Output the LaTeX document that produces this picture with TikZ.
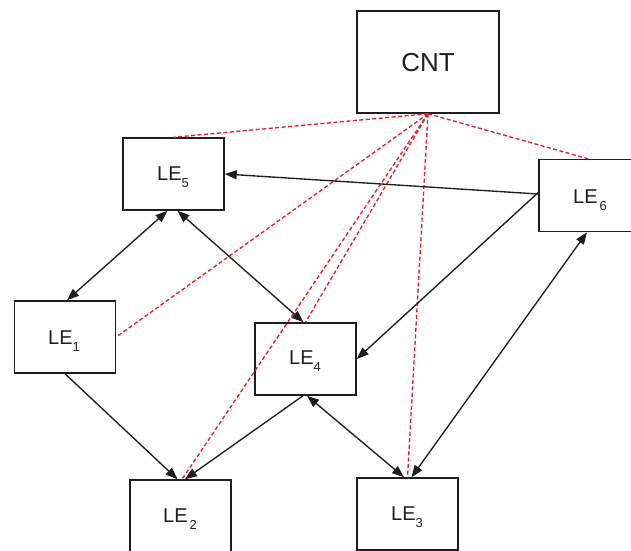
\documentclass[tikz,border=0pt]{standalone}
\usepackage{fontspec}
\setmainfont{Liberation Sans}
\usetikzlibrary{arrows.meta}
% lowered index digit for the LE labels
\newcommand{\lesub}[1]{\raisebox{-7pt}{\fontsize{13}{13}\selectfont #1}}
\definecolor{linkred}{RGB}{232,30,38}
\definecolor{ink}{RGB}{30,30,30}

\begin{document}
\begin{tikzpicture}[x=1pt,y=-1pt,
  box/.style={draw=ink, line width=1.5pt, minimum width=101pt, minimum height=72pt, inner sep=0pt},
  lbl/.style={anchor=base, font=\fontsize{20}{20}\selectfont, text=ink, inner sep=0pt},
  link/.style={line width=1.35pt, draw=ink},
  ctrl/.style={line width=1.35pt, draw=linkred, dash pattern=on 4pt off 2.5pt},
  >={Triangle[length=12pt,width=9pt]}
]
\clip (0,0) rectangle (631,550);

% controller
\node[box, minimum width=142pt, minimum height=102pt] (cnt) at (428,62) {};
\node[anchor=base, font=\fontsize{26}{26}\selectfont, text=ink, inner sep=0pt] (cntlbl) at (428,71.5) {CNT};

% local entities
\node[box] (le5) at (173.5,174) {};
\node[box, minimum width=102pt] (le6) at (590,195.5) {};
\node[box] (le1) at (65,337) {};
\node[box] (le4) at (305.5,359) {};
\node[box] (le2) at (180.5,516) {};
\node[box] (le3) at (407.5,514) {};

\node[lbl] (le5lbl) at (173,180) {LE\lesub{5}};
\node[lbl] (le6lbl) at (590,203) {LE\kern2pt\lesub{6}};
\node[lbl] (le1lbl) at (64,344) {LE\lesub{1}};
\node[lbl] (le4lbl) at (305,364) {LE\lesub{4}};
\node[lbl] (le2lbl) at (180,522) {LE\kern2pt\lesub{2}};
\node[lbl] (le3lbl) at (407,520) {LE\lesub{3}};

% control links from the controller
\draw[ctrl] (cnt.south) -- (le5.north);
\draw[ctrl] (cnt.south) -- ([xshift=-2pt]le6.north);
\draw[ctrl] (cnt.south) -- (le1.east);
\draw[ctrl] (cnt.south) -- (le4.north);
\draw[ctrl] (cnt.south) -- ([xshift=1.5pt]le2.north);
\draw[ctrl] (cnt.south) -- (le3.north);

% data links between entities
\draw[link,->] ([yshift=1.5pt]le6.west) -- (le5.east);
\draw[link,->] ([yshift=3pt]le6.west) -- (le4.east);
\draw[link,<->] ([xshift=4pt]le3.north) -- ([xshift=-3pt]le6.south);
\draw[link,<->] ([xshift=-6pt]le5.south) -- ([xshift=2pt]le1.north);
\draw[link,<->] ([xshift=4pt]le5.south) -- ([xshift=-2pt]le4.north);
\draw[link,->] (le1.south) -- ([xshift=-3pt]le2.north);
\draw[link,->] ([xshift=-2.5pt]le4.south) -- ([xshift=4.5pt]le2.north);
\draw[link,<->] ([xshift=1.5pt]le4.south) -- ([xshift=-3.5pt]le3.north);
\end{tikzpicture}
\end{document}
